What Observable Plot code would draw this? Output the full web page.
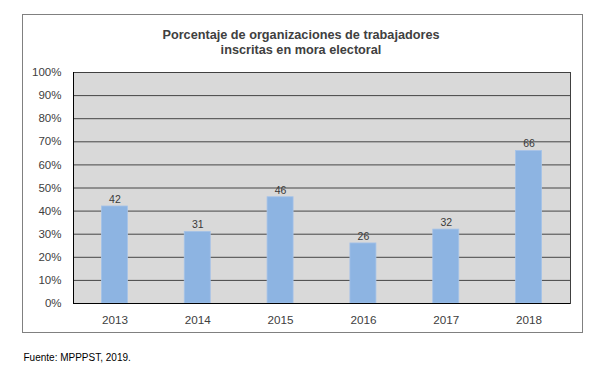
<!DOCTYPE html>
<html><head><meta charset="utf-8">
<script src="https://cdn.jsdelivr.net/npm/d3@7"></script>
<script src="https://cdn.jsdelivr.net/npm/@observablehq/plot@0.6"></script>
<style>
body{margin:0;background:#fff;}
#wrap{position:relative;width:602px;height:377px;overflow:hidden;}
#box{position:absolute;left:22px;top:14px;width:561px;height:319px;border:1px solid #808080;box-sizing:border-box;}
#chart{position:absolute;left:0;top:0;}
</style></head><body>
<div id="wrap"><div id="box"></div><div id="chart"></div></div>
<script>
const years = ["2013", "2014", "2015", "2016", "2017", "2018"];
const values = [42, 31, 46, 26, 32, 66];
const yTicks = [0, 10, 20, 30, 40, 50, 60, 70, 80, 90, 100];
const titleLines = ["Porcentaje de organizaciones de trabajadores", "inscritas en mora electoral"];
const source = "Fuente: MPPPST, 2019.";

const data = years.map((year, i) => ({year, value: values[i]}));

const plot = Plot.plot({
  width: 602, height: 377,
  marginLeft: 73, marginRight: 32, marginTop: 72, marginBottom: 74,
  style: {fontFamily: "'Liberation Sans', Arial, sans-serif", background: "transparent", color: "#404040", overflow: "visible"},
  x: {domain: years, paddingInner: 0.686, paddingOuter: 0.343, round: false, label: null},
  y: {domain: [0, 100], label: null},
  marks: [
    Plot.frame({fill: "#d9d9d9"}),
    Plot.ruleY(yTicks, {stroke: "#454545", strokeWidth: 1}),
    Plot.barY(data, {x: "year", y: "value", fill: "#8db4e2", stroke: "#a6c3e8", strokeWidth: 0.8}),
    Plot.frame({stroke: "#404040"}),
    Plot.ruleY([0], {stroke: "#000"}),
    Plot.frame({anchor: "left", stroke: "#000"}),
    Plot.text(data, {x: "year", y: "value", text: d => String(d.value), dy: -7, fontSize: 10.5, fill: "#3a3a3a"}),
    Plot.axisY({ticks: yTicks, tickSize: 0, tickPadding: 12, tickFormat: d => d + "%", fontSize: 11.5, fill: "#404040", label: null}),
    Plot.axisX({tickSize: 0, tickPadding: 12.5, fontSize: 11.7, fill: "#404040", label: null}),
    Plot.text([titleLines.join("\n")], {frameAnchor: "top", dx: -21, dy: -44.3, lineAnchor: "top", lineHeight: 1.18, fontSize: 12.7, fontWeight: "bold", fill: "#404040"}),
    Plot.text([source], {frameAnchor: "bottom-left", dx: -50, dy: 57, textAnchor: "start", fontSize: 10, fill: "#000"})
  ]
});
document.getElementById("chart").appendChild(plot);
</script>
</body></html>
